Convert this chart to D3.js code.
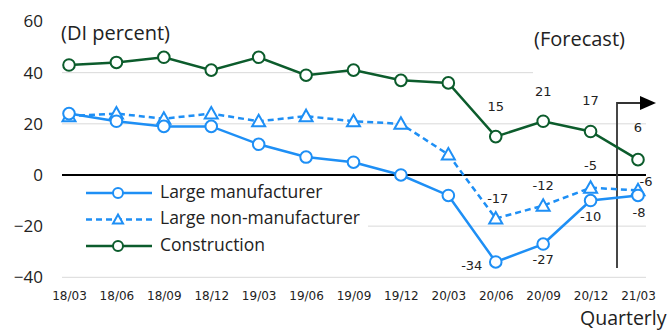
<!DOCTYPE html>
<html>
<head>
<meta charset="utf-8">
<script src="https://cdn.jsdelivr.net/npm/d3@7"></script>
<style>
  body { margin: 0; background: #fff; }
  text { fill: #222; }
</style>
</head>
<body>
<div id="container"></div>
<script>
// quarters
var quarters = ["18/03", "18/06", "18/09", "18/12", "19/03", "19/06", "19/09", "19/12", "20/03", "20/06", "20/09", "20/12", "21/03"];
// DI values
var largeManufacturer = [24, 21, 19, 19, 12, 7, 5, 0, -8, -34, -27, -10, -8];
var largeNonManufacturer = [23, 24, 22, 24, 21, 23, 21, 20, 8, -17, -12, -5, -6];
var construction = [43, 44, 46, 41, 46, 39, 41, 37, 36, 15, 21, 17, 6];
var yTicks = [-40, -20, 0, 20, 40, 60];
var labelFrom = 9; // values shown from 20/06 on

var width = 672, height = 332;
var blue = "#1e8ff5", green = "#0c5c2c";

var svg = d3.select("#container").append("svg")
  .attr("width", width)
  .attr("height", height);

// Set the ranges
var x = d3.scalePoint().domain(quarters).range([69, 638]);
var y = d3.scaleLinear().domain([-40, 60]).range([277.3, 21.5]);

// grid lines
svg.append("g")
  .selectAll("line")
  .data(yTicks.filter(function (d) { return d != 0 && d != 60; }))
  .enter().append("line")
  .attr("x1", 62)
  .attr("x2", function (d) { return d == 40 ? 533 : 646; })
  .attr("y1", function (d) { return y(d); })
  .attr("y2", function (d) { return y(d); })
  .attr("stroke", "#d9d9d9")
  .attr("stroke-width", 1);

// Y axis labels
var yAxis = d3.axisLeft(y).tickValues(yTicks).tickSize(0).tickPadding(0);
var gy = svg.append("g")
  .attr("transform", "translate(43,0)")
  .call(yAxis);
gy.select(".domain").remove();
gy.selectAll("text")
  .attr("font-family", "Open Sans")
  .attr("font-size", 17)
  .attr("fill", "#333");

// X axis labels
var xAxis = d3.axisBottom(x).tickSize(0).tickPadding(0);
var gx = svg.append("g")
  .attr("transform", "translate(0,291)")
  .call(xAxis);
gx.select(".domain").remove();
gx.selectAll("text")
  .attr("font-family", "DejaVu Sans")
  .attr("font-size", 12)
  .attr("fill", "#222");

// legend box covers the grid
svg.append("rect")
  .attr("x", 62).attr("y", 181).attr("width", 306).attr("height", 80)
  .attr("fill", "#fff");

// zero line
svg.append("line")
  .attr("x1", 62).attr("x2", 646)
  .attr("y1", y(0)).attr("y2", y(0))
  .attr("stroke", "#000").attr("stroke-width", 2);

// forecast marker
var fx = 617;
svg.append("path")
  .attr("d", "M" + fx + "," + 268 + "V" + 103 + "H" + 641)
  .attr("fill", "none").attr("stroke", "#333").attr("stroke-width", 1.8);
svg.append("path")
  .attr("d", "M640,96L656,103L640,110Z")
  .attr("fill", "#000");

var series = [
  { name: "Large manufacturer", values: largeManufacturer, color: blue, dash: null, marker: "circle" },
  { name: "Large non-manufacturer", values: largeNonManufacturer, color: blue, dash: "6,4", marker: "triangle" },
  { name: "Construction", values: construction, color: green, dash: null, marker: "circle" }
];

var valueline = d3.line()
  .x(function (d, i) { return x(quarters[i]); })
  .y(function (d) { return y(d); });

function drawMarker(g, kind, color, cx, cy) {
  if (kind == "circle") {
    g.append("circle")
      .attr("cx", cx).attr("cy", cy).attr("r", 5.8)
      .attr("fill", "#fff").attr("stroke", color).attr("stroke-width", 2);
  } else {
    g.append("path")
      .attr("d", "M" + cx + "," + (cy - 6.5) + "L" + (cx + 6.5) + "," + (cy + 5) + "L" + (cx - 6.5) + "," + (cy + 5) + "Z")
      .attr("fill", "#fff").attr("stroke", color).attr("stroke-width", 2);
  }
}

// draw in order: non-manufacturer, manufacturer, construction
[1, 0, 2].forEach(function (k) {
  var s = series[k];
  var g = svg.append("g");
  g.append("path")
    .attr("d", valueline(s.values))
    .attr("fill", "none")
    .attr("stroke", s.color)
    .attr("stroke-width", 2.5)
    .attr("stroke-dasharray", s.dash);
  s.values.forEach(function (v, i) {
    drawMarker(g, s.marker, s.color, x(quarters[i]), y(v));
  });
});

// data labels
var labelOffsets = {
  0: [[-24, 5], [0, 16], [0, 17], [1, 18]],
  1: [[2, -19], [0, -19], [0, -21], [8, -8]],
  2: [[0, -29], [0, -29], [0, -30], [0, -31]]
};
series.forEach(function (s, k) {
  s.values.slice(labelFrom).forEach(function (v, j) {
    var i = labelFrom + j;
    svg.append("text")
      .attr("x", x(quarters[i]) + labelOffsets[k][j][0])
      .attr("y", y(v) + labelOffsets[k][j][1])
      .attr("text-anchor", "middle")
      .attr("dominant-baseline", "middle")
      .attr("font-family", "DejaVu Sans")
      .attr("font-size", 13)
      .text(v);
  });
});

// legend
series.forEach(function (s, k) {
  var ly = 193 + k * 26.5;
  var g = svg.append("g");
  g.append("line")
    .attr("x1", 86).attr("x2", 152).attr("y1", ly).attr("y2", ly)
    .attr("stroke", s.color).attr("stroke-width", 2.5)
    .attr("stroke-dasharray", s.dash);
  if (s.marker == "circle") {
    g.append("circle").attr("cx", 118).attr("cy", ly).attr("r", 5)
      .attr("fill", "#fff").attr("stroke", s.color).attr("stroke-width", 2);
  } else {
    g.append("path")
      .attr("d", "M118," + (ly - 5) + "L123," + (ly + 4) + "L113," + (ly + 4) + "Z")
      .attr("fill", "#fff").attr("stroke", s.color).attr("stroke-width", 2);
  }
  g.append("text")
    .attr("x", 160).attr("y", ly)
    .attr("dominant-baseline", "middle")
    .attr("font-family", "Open Sans")
    .attr("font-size", 17.5)
    .text(s.name);
});

// titles
svg.append("text").attr("x", 61).attr("y", 40)
  .attr("font-family", "Open Sans").attr("font-size", 20).text("(DI percent)");
svg.append("text").attr("x", 534).attr("y", 45.5)
  .attr("font-family", "Open Sans").attr("font-size", 20).text("(Forecast)");
svg.append("text").attr("x", 580).attr("y", 325)
  .attr("font-family", "Open Sans").attr("font-size", 19.5).text("Quarterly");
</script>
</body>
</html>
